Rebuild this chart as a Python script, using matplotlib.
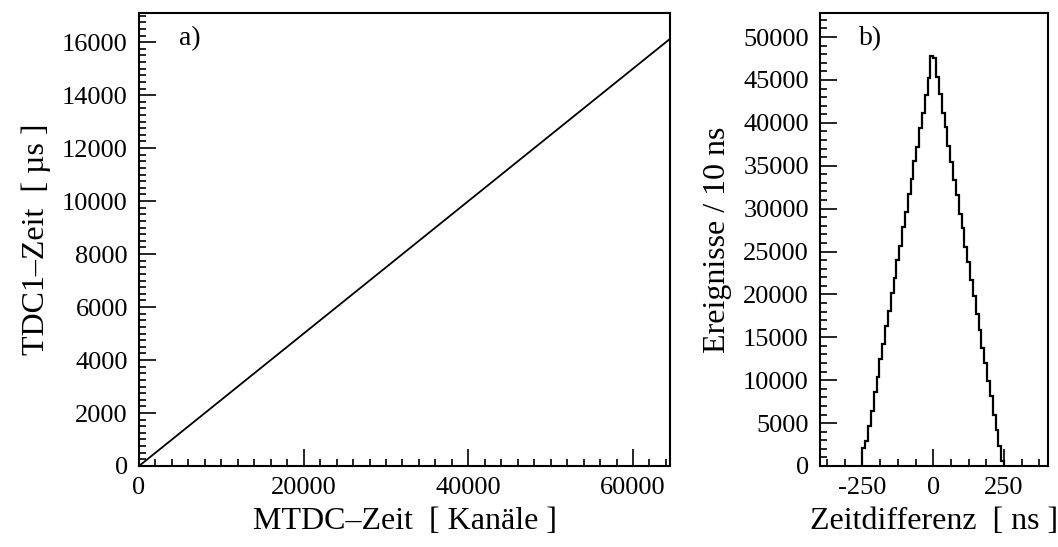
import numpy as np
import matplotlib
matplotlib.use("Agg")
import matplotlib.pyplot as plt
from matplotlib.ticker import MultipleLocator

plt.rcParams['font.family'] = ['Liberation Serif', 'DejaVu Serif']
plt.rcParams['mathtext.fontset'] = 'stix'
plt.rcParams['axes.unicode_minus'] = False

# a) calibration line MTDC channels -> TDC1 time
mtdc_kanal = [0, 65536]
tdc1_zeit = [0, 16384]

# b) time difference histogram, 10 ns bins
bin_edges_ns = list(range(-250, 251, 10))
ereignisse = [
    2100, 2900, 4700, 6400, 8600, 10400, 12500, 14200, 16300, 18100,
    20200, 21900, 24000, 25700, 27900, 29600, 31700, 33400, 35600, 37200,
    39400, 41100, 43300, 45200, 47800,
    47600, 45300, 43400, 41200, 39500, 37300, 35400, 33300, 31600, 29400,
    27700, 25500, 23800, 21700, 19800, 17700, 15900, 13800, 12000, 9900,
    8100, 6000, 4200, 2300, 600,
]

fig = plt.figure(figsize=(10.58, 5.47), dpi=100)
ax1 = fig.add_axes([0.1314, 0.1481, 0.5019, 0.8281])
ax2 = fig.add_axes([0.775, 0.1481, 0.2155, 0.8281])

tick_fs = 19
label_fs = 23

def style_axes(ax):
    for sp in ax.spines.values():
        sp.set_linewidth(1.5)
    ax.tick_params(which='both', direction='in', top=False, right=False,
                   labelsize=tick_fs, width=1.2, pad=8)
    ax.tick_params(which='major', length=12)
    ax.tick_params(which='minor', length=5)

# panel a
ax1.plot(mtdc_kanal, tdc1_zeit, color='black', lw=1.3)
ax1.set_xlim(0, 64500)
ax1.set_ylim(0, 17100)
ax1.xaxis.set_major_locator(MultipleLocator(20000))
ax1.xaxis.set_minor_locator(MultipleLocator(2000))
ax1.yaxis.set_major_locator(MultipleLocator(2000))
ax1.yaxis.set_minor_locator(MultipleLocator(250))
style_axes(ax1)
ax1.set_xlabel('MTDC\u2013Zeit  [ Kanäle ]', fontsize=label_fs, labelpad=6)
ax1.set_ylabel('TDC1\u2013Zeit  [ µs ]', fontsize=label_fs, labelpad=8)
ax1.text(0.075, 0.93, 'a)', transform=ax1.transAxes, fontsize=20)

# panel b
ax2.stairs(ereignisse, bin_edges_ns, color='black', lw=1.6)
ax2.set_xlim(-400, 405)
ax2.set_ylim(0, 52800)
ax2.set_xticks([-250, 0, 250])
ax2.xaxis.set_minor_locator(MultipleLocator(62.5))
ax2.yaxis.set_major_locator(MultipleLocator(5000))
ax2.yaxis.set_minor_locator(MultipleLocator(1000))
style_axes(ax2)
ax2.set_xlabel('Zeitdifferenz  [ ns ]', fontsize=label_fs, labelpad=6)
ax2.set_ylabel('Ereignisse / 10 ns', fontsize=label_fs, labelpad=8)
ax2.text(0.17, 0.93, 'b)', transform=ax2.transAxes, fontsize=20)

fig.savefig('out.png', dpi=100)
